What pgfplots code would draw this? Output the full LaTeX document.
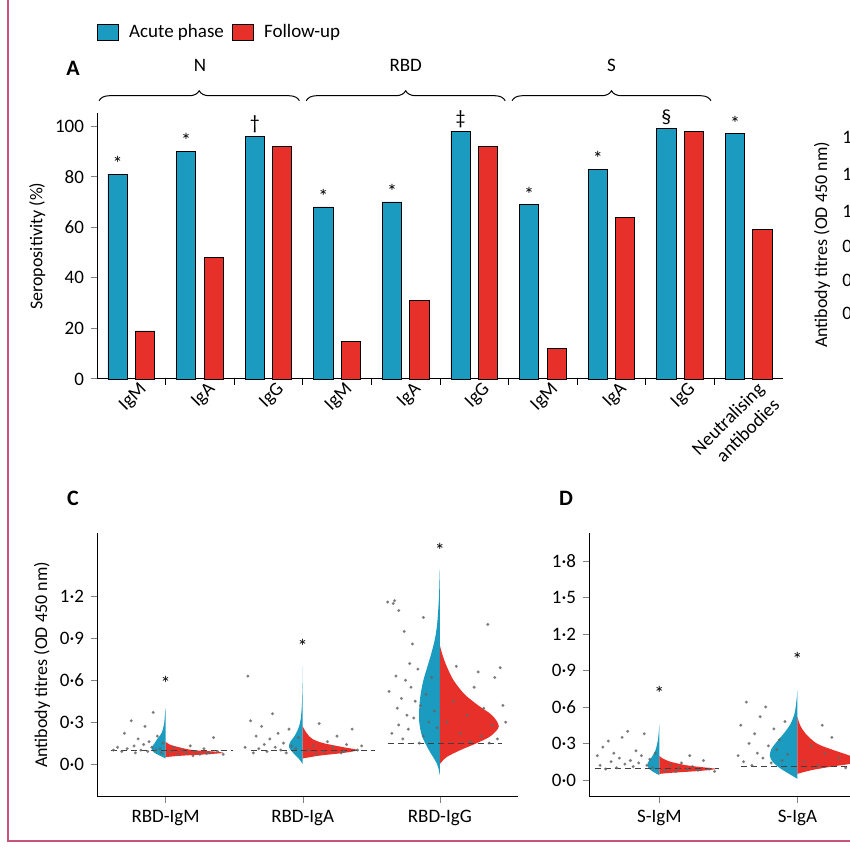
\documentclass[border=0pt]{standalone}
\usepackage{pgfplots}
\pgfplotsset{compat=1.18}
\usepackage{pgfplotstable}
\usepackage{fontspec}
\setmainfont{Carlito}
\usetikzlibrary{decorations.pathreplacing}
\definecolor{cb}{HTML}{1A9BBF}
\definecolor{cr}{HTML}{E8302A}
\definecolor{fr}{HTML}{C8547A}
\pgfplotsset{every axis/.append style={/pgf/number format/assume math mode=true, tick label style={font=\fontsize{9.5}{11}\selectfont}, label style={font=\fontsize{9}{10}\selectfont}}}
\pgfplotstableread{
y w
0.04 0
0.06 0.04
0.08 0.08
0.10 0.10
0.12 0.10
0.15 0.08
0.18 0.06
0.22 0.03
0.28 0.012
0.35 0.005
0.40 0
}\vAb
\pgfplotstableread{
y w
0.05 0
0.06 0.12
0.07 0.30
0.08 0.42
0.09 0.35
0.10 0.20
0.12 0.10
0.14 0.03
0.16 0
}\vAr
\pgfplotstableread{
y w
0.0 0
0.04 0.03
0.08 0.07
0.12 0.10
0.16 0.09
0.20 0.06
0.26 0.03
0.32 0.015
0.42 0.006
0.55 0.002
0.70 0
}\vBb
\pgfplotstableread{
y w
0.04 0
0.06 0.12
0.08 0.30
0.10 0.40
0.12 0.30
0.15 0.15
0.18 0.07
0.22 0.03
0.27 0
}\vBr
\pgfplotstableread{
y w
-0.08 0
0.0 0.02
0.1 0.08
0.2 0.13
0.3 0.15
0.4 0.15
0.5 0.14
0.6 0.12
0.7 0.09
0.8 0.06
0.9 0.035
1.0 0.02
1.1 0.012
1.2 0.006
1.3 0.003
1.4 0
}\vCb
\pgfplotstableread{
y w
0.0 0
0.05 0.05
0.1 0.15
0.15 0.27
0.2 0.37
0.27 0.43
0.35 0.38
0.42 0.28
0.5 0.18
0.6 0.10
0.7 0.05
0.78 0.02
0.85 0
}\vCr
\pgfplotstableread{
y w
0.04 0
0.07 0.05
0.10 0.08
0.14 0.085
0.18 0.06
0.24 0.03
0.32 0.012
0.40 0.004
0.46 0
}\vDb
\pgfplotstableread{
y w
0.05 0
0.06 0.10
0.075 0.30
0.09 0.41
0.10 0.35
0.12 0.20
0.15 0.08
0.18 0.02
0.20 0
}\vDr
\pgfplotstableread{
y w
0.01 0
0.05 0.06
0.1 0.13
0.15 0.18
0.2 0.20
0.25 0.19
0.3 0.16
0.38 0.10
0.46 0.05
0.55 0.02
0.65 0.007
0.74 0
}\vEb
\pgfplotstableread{
y w
0.05 0
0.08 0.10
0.11 0.25
0.14 0.42
0.17 0.45
0.2 0.38
0.25 0.25
0.3 0.14
0.38 0.06
0.45 0.02
0.52 0
}\vEr
\begin{document}
\begin{tikzpicture}
\useasboundingbox (0pt,0pt) rectangle (425pt,425pt);
\clip (0pt,0pt) rectangle (425pt,425pt);
\begin{scope}[x=1pt,y=1pt]
\draw[fr, line width=0.6pt] (4,425) -- (4,4.5) -- (425,4.5);
% legend
\draw[fill=cb, line width=0.3pt] (48.5,405) rectangle (59,413);
\node[anchor=west, font=\fontsize{9.5}{11}\selectfont] at (61,409) {Acute phase};
\draw[fill=cr, line width=0.3pt] (116,405) rectangle (126.5,413);
\node[anchor=west, font=\fontsize{9.5}{11}\selectfont] at (128.5,409) {Follow-up};
\node[font=\bfseries\fontsize{11}{12}\selectfont] at (36.5,391) {A};
\node[font=\bfseries\fontsize{11}{12}\selectfont] at (36.5,176) {C};
\node[font=\bfseries\fontsize{11}{12}\selectfont] at (283,176) {D};
% right partial panel
\node[rotate=90, font=\fontsize{9}{10}\selectfont] at (411,302.5) {Antibody titres (OD 450 nm)};
\foreach \yy/\tt in {137/1·8,174/1·5,211/1·2,246/0·9,280/0·6,313/0·3}
  \node[anchor=west, inner sep=0pt, font=\fontsize{9.5}{11}\selectfont] at (421,{0.5*(850-\yy)}) {\tt};
\end{scope}
% Panel A
\begin{axis}[at={(48.5pt,235.5pt)}, anchor=south west, scale only axis, width=343pt, height=132.8pt,
  xmin=-0.5, xmax=9.5, ymin=0, ymax=105, clip=false,
  axis lines=left, axis line style={-, line width=0.5pt},
  ytick={0,20,40,60,80,100}, tick align=outside, major tick length=3pt, ytick style={line width=0.5pt},
  ylabel={Seropositivity (\%)}, ylabel style={yshift=-2pt},
  xtick={0,...,9}, xtick style={draw=none},
  xticklabels={IgM,IgA,IgG,IgM,IgA,IgG,IgM,IgA,IgG,{Neutralising\\antibodies}},
  xticklabel style={rotate=45, anchor=north east, align=right, inner sep=1pt, xshift=5pt},
  extra x ticks={0.5,1.5,...,8.5}, extra x tick labels={},
  extra x tick style={xtick style={draw=black, line width=0.5pt}},
  ybar, bar width=0.28]
\addplot[fill=cb, draw=black, line width=0.4pt, bar shift=-0.2] coordinates {(0,81)(1,90)(2,96)(3,68)(4,70)(5,98)(6,69)(7,83)(8,99)(9,97)};
\addplot[fill=cr, draw=black, line width=0.4pt, bar shift=0.2] coordinates {(0,19)(1,48)(2,92)(3,15)(4,31)(5,92)(6,12)(7,64)(8,98)(9,59)};
\node[above,inner sep=1.5pt] at (axis cs:-0.2,81) {*};
\node[above,inner sep=1.5pt] at (axis cs:0.8,90) {*};
\node[above,inner sep=1.5pt] at (axis cs:1.8,96) {\dag};
\node[above,inner sep=1.5pt] at (axis cs:2.8,68) {*};
\node[above,inner sep=1.5pt] at (axis cs:3.8,70) {*};
\node[above,inner sep=1.5pt] at (axis cs:4.8,98) {\ddag};
\node[above,inner sep=1.5pt] at (axis cs:5.8,69) {*};
\node[above,inner sep=1.5pt] at (axis cs:6.8,83) {*};
\node[above,inner sep=1.5pt] at (axis cs:7.8,99) {\S};
\node[above,inner sep=1.5pt] at (axis cs:8.8,97) {*};
\draw[decorate, decoration={brace, amplitude=5pt}, line width=0.5pt] (axis cs:-0.47,110) -- (axis cs:2.45,110);
\draw[decorate, decoration={brace, amplitude=5pt}, line width=0.5pt] (axis cs:2.55,110) -- (axis cs:5.45,110);
\draw[decorate, decoration={brace, amplitude=5pt}, line width=0.5pt] (axis cs:5.55,110) -- (axis cs:8.45,110);
\node[font=\fontsize{9.5}{11}\selectfont] at (axis cs:1,124) {N};
\node[font=\fontsize{9.5}{11}\selectfont] at (axis cs:4,124) {RBD};
\node[font=\fontsize{9.5}{11}\selectfont] at (axis cs:7,124) {S};
\end{axis}
% Panel C
\begin{axis}[at={(48.5pt,26.5pt)}, anchor=south west, scale only axis, width=210.5pt, height=132pt,
  xmin=0.5, xmax=3.57, ymin=-0.236, ymax=1.655, clip=false,
  axis lines=left, axis line style={-, line width=0.5pt},
  ytick={0,0.3,0.6,0.9,1.2}, yticklabels={0·0,0·3,0·6,0·9,1·2}, tick align=outside, major tick length=3pt,
  xtick={1,2,3}, xticklabels={RBD-IgM,RBD-IgA,RBD-IgG},
  ylabel={Antibody titres (OD 450 nm)}, ylabel style={yshift=-2pt}]
\addplot[fill=cb, draw=none, smooth] table[x expr=1-\thisrow{w}, y=y] {\vAb};
\addplot[fill=cr, draw=none, smooth] table[x expr=1+\thisrow{w}, y=y] {\vAr};
\addplot[fill=cb, draw=none, smooth] table[x expr=2-\thisrow{w}, y=y] {\vBb};
\addplot[fill=cr, draw=none, smooth] table[x expr=2+\thisrow{w}, y=y] {\vBr};
\addplot[fill=cb, draw=none, smooth] table[x expr=3-\thisrow{w}, y=y] {\vCb};
\addplot[fill=cr, draw=none, smooth] table[x expr=3+\thisrow{w}, y=y] {\vCr};
\addplot[densely dashed, gray!50!black, line width=0.5pt] coordinates {(0.6,0.10)(1.49,0.10)};
\addplot[densely dashed, gray!50!black, line width=0.5pt] coordinates {(1.62,0.10)(2.53,0.10)};
\addplot[densely dashed, gray!50!black, line width=0.5pt] coordinates {(2.62,0.15)(3.45,0.15)};
\addplot[only marks, mark=*, mark size=0.55pt, gray!80!black, opacity=0.7] coordinates {
(0.62,0.10)(0.65,0.12)(0.68,0.09)(0.70,0.22)(0.72,0.11)(0.75,0.31)(0.77,0.13)(0.78,0.08)(0.80,0.18)(0.82,0.10)(0.84,0.14)(0.85,0.27)(0.87,0.09)(0.88,0.16)(0.90,0.12)(0.91,0.37)(0.93,0.10)(0.94,0.20)(0.96,0.11)(0.97,0.08)(0.98,0.15)(1.03,0.09)(1.06,0.12)(1.09,0.07)(1.12,0.10)(1.15,0.08)(1.18,0.13)(1.22,0.09)(1.25,0.07)(1.28,0.11)(1.32,0.08)(1.35,0.19)(1.38,0.09)(1.42,0.07)(1.20,0.06)(1.30,0.075)
(1.58,0.12)(1.60,0.63)(1.62,0.31)(1.64,0.08)(1.66,0.20)(1.68,0.11)(1.70,0.27)(1.72,0.14)(1.74,0.09)(1.76,0.18)(1.78,0.36)(1.80,0.12)(1.82,0.22)(1.84,0.10)(1.86,0.15)(1.88,0.08)(1.90,0.25)(1.92,0.13)(1.95,0.11)(1.97,0.19)(2.04,0.10)(2.08,0.13)(2.12,0.29)(2.15,0.09)(2.18,0.16)(2.22,0.12)(2.25,0.20)(2.28,0.08)(2.32,0.14)(2.36,0.25)(2.40,0.10)(2.43,0.13)(2.10,0.07)(2.30,0.09)
(2.62,1.16)(2.66,1.15)(2.67,1.17)(2.70,1.10)(2.68,0.63)(2.70,0.28)(2.72,0.47)(2.74,0.95)(2.75,0.60)(2.76,0.35)(2.78,0.72)(2.80,0.86)(2.82,0.45)(2.63,0.52)(2.65,0.22)(2.69,0.40)(2.73,0.18)(2.77,0.25)(2.79,0.55)(2.81,0.33)(2.84,0.68)(2.86,0.42)(2.88,0.20)(2.90,0.50)(2.92,0.30)(2.94,0.62)(2.96,0.38)(2.98,0.26)(2.88,1.05)(2.85,0.15)(3.05,0.30)(3.10,0.45)(3.15,0.22)(3.20,0.35)(3.25,0.55)(3.28,0.66)(3.30,0.20)(3.32,0.40)(3.35,1.00)(3.38,0.28)(3.40,0.62)(3.42,0.18)(3.44,0.69)(3.46,0.42)(3.48,0.30)(3.22,0.16)(3.36,0.15)(3.12,0.70)};
\node at (axis cs:1,0.58) {*};
\node at (axis cs:2,0.84) {*};
\node at (axis cs:3,1.53) {*};
\end{axis}
% Panel D
\begin{axis}[at={(294.5pt,26.5pt)}, anchor=south west, scale only axis, width=214.6pt, height=132pt,
  xmin=0.49, xmax=3.6, ymin=-0.14, ymax=2.03, clip=false,
  axis lines=left, axis line style={-, line width=0.5pt},
  ytick={0,0.3,0.6,0.9,1.2,1.5,1.8}, yticklabels={0·0,0·3,0·6,0·9,1·2,1·5,1·8}, tick align=outside, major tick length=3pt,
  xtick={1,2,3}, xticklabels={S-IgM,S-IgA,S-IgG}]
\addplot[fill=cb, draw=none, smooth] table[x expr=1-\thisrow{w}, y=y] {\vDb};
\addplot[fill=cr, draw=none, smooth] table[x expr=1+\thisrow{w}, y=y] {\vDr};
\addplot[fill=cb, draw=none, smooth] table[x expr=2-\thisrow{w}, y=y] {\vEb};
\addplot[fill=cr, draw=none, smooth] table[x expr=2+\thisrow{w}, y=y] {\vEr};
\addplot[densely dashed, gray!50!black, line width=0.5pt] coordinates {(0.53,0.095)(1.43,0.095)};
\addplot[densely dashed, gray!50!black, line width=0.5pt] coordinates {(1.59,0.11)(2.6,0.11)};
\addplot[only marks, mark=*, mark size=0.55pt, gray!80!black, opacity=0.7] coordinates {
(0.55,0.20)(0.57,0.12)(0.59,0.27)(0.61,0.09)(0.63,0.32)(0.65,0.15)(0.67,0.22)(0.69,0.10)(0.71,0.18)(0.73,0.35)(0.75,0.13)(0.77,0.40)(0.79,0.16)(0.81,0.11)(0.83,0.24)(0.85,0.14)(0.87,0.20)(0.89,0.38)(0.91,0.12)(0.93,0.17)(0.95,0.10)(0.97,0.22)(1.04,0.08)(1.08,0.12)(1.12,0.07)(1.16,0.14)(1.20,0.09)(1.24,0.11)(1.28,0.08)(1.32,0.16)(1.36,0.09)(1.40,0.07)(1.22,0.20)(1.14,0.10)
(1.57,0.20)(1.59,0.45)(1.61,0.15)(1.63,0.64)(1.65,0.30)(1.67,0.12)(1.69,0.38)(1.71,0.22)(1.73,0.52)(1.75,0.18)(1.77,0.60)(1.79,0.28)(1.81,0.14)(1.83,0.42)(1.85,0.25)(1.87,0.33)(1.89,0.16)(1.91,0.48)(1.93,0.21)(2.05,0.15)(2.10,0.28)(2.15,0.12)(2.20,0.22)(2.25,0.35)(2.30,0.18)(2.35,0.10)(2.40,0.25)(2.45,0.14)(2.50,0.20)(2.55,0.12)(2.60,0.38)(2.18,0.45)};
\node at (axis cs:1,0.71) {*};
\node at (axis cs:2,0.99) {*};
\end{axis}
\end{tikzpicture}
\end{document}
